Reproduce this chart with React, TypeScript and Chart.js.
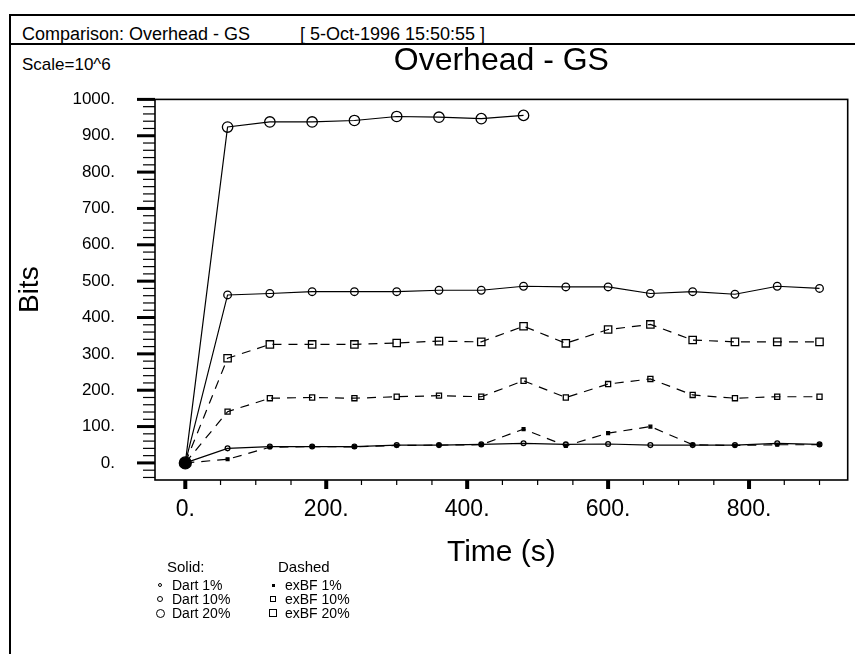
import React, { useEffect, useRef } from 'react';
import { Chart, registerables } from 'chart.js';

Chart.register(...registerables);

// ---- data (values in units of 10^6 bits) ----
const times = [0, 60, 120, 180, 240, 300, 360, 420, 480, 540, 600, 660, 720, 780, 840, 900];
const dart1 = [0, 40, 45, 45, 45, 49, 49, 51, 54, 51, 52, 49, 49, 49, 54, 51];
const dart10 = [0, 462, 466, 471, 471, 471, 475, 475, 486, 484, 484, 466, 471, 464, 486, 480];
const dart20 = [0, 924, 938, 938, 942, 953, 951, 947, 956];
const exbf1 = [0, 10, 43, 45, 44, 48, 49, 50, 93, 47, 82, 100, 50, 48, 50, 50];
const exbf10 = [0, 141, 178, 180, 178, 182, 185, 182, 226, 180, 217, 231, 187, 178, 182, 182];
const exbf20 = [0, 288, 326, 326, 326, 330, 335, 333, 376, 329, 367, 381, 338, 333, 333, 333];

const yTickValues = [0, 100, 200, 300, 400, 500, 600, 700, 800, 900, 1000];
const xTickValues = [0, 200, 400, 600, 800];

const headerTitle = 'Comparison: Overhead - GS';
const headerDate = '[ 5-Oct-1996 15:50:55 ]';
const scaleNote = 'Scale=10^6';
const chartTitle = 'Overhead - GS';
const yTitle = 'Bits';
const xTitle = 'Time (s)';
const solidNames = ['Dart 1%', 'Dart 10%', 'Dart 20%'];
const dashedNames = ['exBF 1%', 'exBF 10%', 'exBF 20%'];

const FONT = '"Liberation Sans", Arial, Helvetica, sans-serif';
const INK = '#000';

const toPts = (vals: number[]) => vals.map((v, i) => ({ x: times[i], y: v }));

const axisPlugin = {
  id: 'axisMarks',
  beforeDatasetsDraw(chart: any) {
    const { ctx, chartArea: a, scales } = chart;
    const x = scales.x;
    const y = scales.y;
    ctx.save();
    ctx.fillStyle = INK;
    for (let v = -40; v <= 1000; v += 20) {
      const py = y.getPixelForValue(v);
      if (v % 100 === 0) ctx.fillRect(a.left - 18, py - 1.5, 18, 3);
      else ctx.fillRect(a.left - 12, py - 0.6, 12, 1.2);
    }
    for (let v = 0; v <= 900; v += 50) {
      const px = x.getPixelForValue(v);
      if (v % 200 === 0) ctx.fillRect(px - 2, a.bottom, 4, 9);
      else ctx.fillRect(px - 0.6, a.bottom, 1.2, 5);
    }
    ctx.strokeStyle = INK;
    ctx.lineWidth = 1.6;
    ctx.strokeRect(a.left, a.top, a.right - a.left, a.bottom - a.top);
    ctx.restore();
  },
};

function Txt(props: { x: number; cy: number; size: number; children: any }) {
  const lh = Math.round(props.size * 1.2);
  return (
    <div
      style={{
        position: 'absolute',
        left: props.x,
        top: props.cy - lh / 2,
        fontSize: props.size,
        lineHeight: lh + 'px',
        fontFamily: FONT,
        color: INK,
        whiteSpace: 'nowrap',
      }}
    >
      {props.children}
    </div>
  );
}

function Marker(props: { cx: number; cy: number; size: number; shape: 'circle' | 'square'; filled?: boolean }) {
  const s = props.size;
  return (
    <div
      style={{
        position: 'absolute',
        left: props.cx - s / 2,
        top: props.cy - s / 2,
        width: s,
        height: s,
        boxSizing: 'border-box',
        border: '1.3px solid ' + INK,
        borderRadius: props.shape === 'circle' ? '50%' : 0,
        background: props.filled ? INK : 'transparent',
      }}
    />
  );
}

export default function App() {
  const ref = useRef<HTMLCanvasElement | null>(null);

  useEffect(() => {
    const canvas = ref.current;
    if (!canvas) return;
    const open = 'rgba(0,0,0,0)';
    const mk = (
      label: string,
      vals: number[],
      style: string,
      r: number,
      dashed: boolean,
      filled: boolean,
      origin: boolean
    ) => ({
      label,
      data: toPts(vals),
      borderColor: INK,
      borderWidth: 1.2,
      borderDash: dashed ? [9, 7] : [],
      pointStyle: style,
      pointRadius: (c: any) => (c.dataIndex === 0 ? (origin ? 6 : 0) : r),
      pointBorderWidth: 1.3,
      pointBorderColor: INK,
      pointBackgroundColor: (c: any) => (c.dataIndex === 0 || filled ? INK : open),
      fill: false,
      tension: 0,
    });

    const chart = new Chart(canvas, {
      type: 'line',
      data: {
        datasets: [
          mk('Dart 20%', dart20, 'circle', 5.2, false, false, true),
          mk('Dart 10%', dart10, 'circle', 3.8, false, false, false),
          mk('Dart 1%', dart1, 'circle', 2.4, false, false, false),
          mk('exBF 20%', exbf20, 'rect', 5.2, true, false, false),
          mk('exBF 10%', exbf10, 'rect', 3.6, true, false, false),
          mk('exBF 1%', exbf1, 'rect', 2.0, true, true, false),
        ] as any,
      },
      options: {
        animation: false,
        responsive: false,
        maintainAspectRatio: false,
        layout: { padding: { left: 0, top: 0, right: 6, bottom: 0 } },
        plugins: {
          legend: { display: false },
          tooltip: { enabled: false },
          title: {
            display: true,
            text: chartTitle,
            fullSize: false,
            color: INK,
            font: { family: FONT, size: 32, weight: 'normal', lineHeight: 1.2 },
            padding: { top: 42, bottom: 19 },
          },
        },
        scales: {
          x: {
            type: 'linear',
            min: -43,
            max: 940,
            grid: { display: false },
            border: { display: false },
            afterBuildTicks: (s: any) => {
              s.ticks = xTickValues.map((v) => ({ value: v }));
            },
            afterFit: (s: any) => {
              s.height = 174;
            },
            ticks: {
              color: INK,
              padding: 8,
              maxRotation: 0,
              autoSkip: false,
              font: { family: FONT, size: 23, lineHeight: 1.2 },
              callback: (v: any) => v + '.',
            },
            title: {
              display: true,
              text: xTitle,
              color: INK,
              font: { family: FONT, size: 30, lineHeight: 1.2 },
              padding: { top: 0, bottom: 83 },
            },
          },
          y: {
            type: 'linear',
            min: -47,
            max: 1000,
            grid: { display: false },
            border: { display: false },
            afterBuildTicks: (s: any) => {
              s.ticks = yTickValues.map((v) => ({ value: v }));
            },
            afterFit: (s: any) => {
              s.width = 155;
            },
            ticks: {
              color: INK,
              padding: 32,
              autoSkip: false,
              font: { family: FONT, size: 17, lineHeight: 1.2 },
              callback: (v: any) => v + '.',
            },
            title: {
              display: true,
              text: yTitle,
              color: INK,
              font: { family: FONT, size: 28, lineHeight: 1.2 },
              padding: { top: 13, bottom: 0 },
            },
          },
        },
      },
      plugins: [axisPlugin],
    } as any);

    return () => chart.destroy();
  }, []);

  return (
    <div
      style={{
        position: 'fixed',
        left: 0,
        top: 0,
        width: 855,
        height: 654,
        overflow: 'hidden',
        background: '#fff',
      }}
    >
      {/* outer frame and header separator */}
      <div
        style={{
          position: 'absolute',
          left: 9,
          top: 14,
          width: 900,
          height: 700,
          borderLeft: '2px solid ' + INK,
          borderTop: '2px solid ' + INK,
        }}
      />
      <div style={{ position: 'absolute', left: 9, top: 43, width: 900, height: 0, borderTop: '2px solid ' + INK }} />

      <Txt x={22} cy={34} size={18}>{headerTitle}</Txt>
      <Txt x={300} cy={34} size={18}>{headerDate}</Txt>
      <Txt x={22} cy={65} size={17}>{scaleNote}</Txt>

      <canvas ref={ref} width={855} height={654} style={{ position: 'absolute', left: 0, top: 0 }} />

      {/* legend */}
      <Txt x={167} cy={567} size={15}>Solid:</Txt>
      <Txt x={278} cy={567} size={15}>Dashed</Txt>
      {solidNames.map((n, i) => (
        <React.Fragment key={n}>
          <Marker cx={160} cy={585 + i * 14} size={[4, 6, 9][i]} shape="circle" />
          <Txt x={172} cy={585 + i * 14} size={14}>{n}</Txt>
        </React.Fragment>
      ))}
      {dashedNames.map((n, i) => (
        <React.Fragment key={n}>
          <Marker cx={273} cy={585 + i * 14} size={[3, 6, 8][i]} shape="square" filled={i === 0} />
          <Txt x={285} cy={585 + i * 14} size={14}>{n}</Txt>
        </React.Fragment>
      ))}
    </div>
  );
}
